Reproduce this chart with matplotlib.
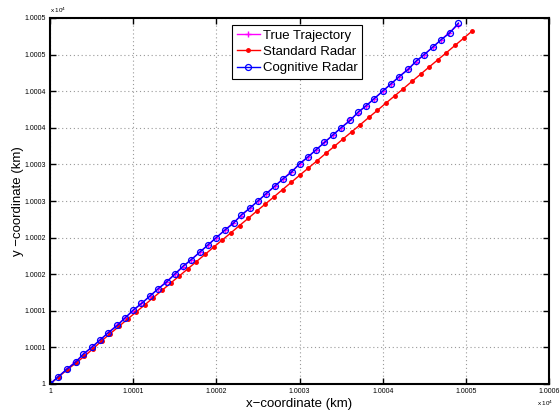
import numpy as np
import matplotlib
matplotlib.use('Agg')
import matplotlib.pyplot as plt
from matplotlib.ticker import FixedLocator, FuncFormatter

# coordinates in km
x_true = [10000.0, 10000.1, 10000.2, 10000.3, 10000.4, 10000.5, 10000.6, 10000.7, 10000.8, 10000.9,
          10001.0, 10001.1, 10001.2, 10001.3, 10001.4, 10001.5, 10001.6, 10001.7, 10001.8, 10001.9,
          10002.0, 10002.1, 10002.2, 10002.3, 10002.4, 10002.5, 10002.6, 10002.7, 10002.8, 10002.9,
          10003.0, 10003.1, 10003.2, 10003.3, 10003.4, 10003.5, 10003.6, 10003.7, 10003.8, 10003.9,
          10004.0, 10004.1, 10004.2, 10004.3, 10004.4, 10004.5, 10004.6, 10004.7, 10004.8, 10004.9]
y_true = [10000.0, 10000.1, 10000.2, 10000.3, 10000.4, 10000.5, 10000.6, 10000.7, 10000.8, 10000.9,
          10001.0, 10001.1, 10001.2, 10001.3, 10001.4, 10001.5, 10001.6, 10001.7, 10001.8, 10001.9,
          10002.0, 10002.1, 10002.2, 10002.3, 10002.4, 10002.5, 10002.6, 10002.7, 10002.8, 10002.9,
          10003.0, 10003.1, 10003.2, 10003.3, 10003.4, 10003.5, 10003.6, 10003.7, 10003.8, 10003.9,
          10004.0, 10004.1, 10004.2, 10004.3, 10004.4, 10004.5, 10004.6, 10004.7, 10004.8, 10004.9]

x_std = [10000.000, 10000.104, 10000.207, 10000.311, 10000.414, 10000.518, 10000.622, 10000.725, 10000.829, 10000.932,
         10001.036, 10001.140, 10001.243, 10001.347, 10001.450, 10001.554, 10001.658, 10001.761, 10001.865, 10001.968,
         10002.072, 10002.176, 10002.279, 10002.383, 10002.486, 10002.590, 10002.694, 10002.797, 10002.901, 10003.004,
         10003.108, 10003.212, 10003.315, 10003.419, 10003.522, 10003.626, 10003.730, 10003.833, 10003.937, 10004.040,
         10004.144, 10004.248, 10004.351, 10004.455, 10004.558, 10004.662, 10004.766, 10004.869, 10004.973, 10005.076]
y_std = [10000.000, 10000.098, 10000.197, 10000.285, 10000.380, 10000.482, 10000.590, 10000.689, 10000.787, 10000.886,
         10000.984, 10001.082, 10001.181, 10001.279, 10001.378, 10001.476, 10001.574, 10001.673, 10001.771, 10001.870,
         10001.968, 10002.066, 10002.165, 10002.263, 10002.362, 10002.460, 10002.558, 10002.657, 10002.755, 10002.854,
         10002.952, 10003.050, 10003.149, 10003.247, 10003.346, 10003.444, 10003.542, 10003.641, 10003.739, 10003.838,
         10003.936, 10004.034, 10004.133, 10004.231, 10004.330, 10004.428, 10004.526, 10004.625, 10004.723, 10004.822]

x_cog = [10000.00, 10000.10, 10000.20, 10000.31, 10000.40, 10000.50, 10000.60, 10000.70, 10000.81, 10000.90,
         10001.00, 10001.10, 10001.20, 10001.30, 10001.41, 10001.50, 10001.60, 10001.70, 10001.80, 10001.90,
         10002.00, 10002.10, 10002.21, 10002.30, 10002.40, 10002.50, 10002.60, 10002.70, 10002.80, 10002.91,
         10003.00, 10003.10, 10003.20, 10003.30, 10003.40, 10003.50, 10003.61, 10003.70, 10003.80, 10003.90,
         10004.00, 10004.10, 10004.20, 10004.31, 10004.40, 10004.50, 10004.60, 10004.70, 10004.81, 10004.91]
y_cog = [10000.00, 10000.10, 10000.20, 10000.30, 10000.41, 10000.50, 10000.60, 10000.70, 10000.80, 10000.90,
         10001.01, 10001.10, 10001.20, 10001.30, 10001.40, 10001.50, 10001.61, 10001.70, 10001.80, 10001.90,
         10002.00, 10002.10, 10002.20, 10002.31, 10002.40, 10002.50, 10002.60, 10002.70, 10002.80, 10002.90,
         10003.01, 10003.10, 10003.20, 10003.30, 10003.40, 10003.50, 10003.60, 10003.71, 10003.80, 10003.90,
         10004.00, 10004.10, 10004.20, 10004.30, 10004.41, 10004.50, 10004.60, 10004.70, 10004.80, 10004.93]

x_ticks = [10000, 10001, 10002, 10003, 10004, 10005, 10006]
y_ticks = [10000, 10000.5, 10001, 10001.5, 10002, 10002.5, 10003, 10003.5, 10004, 10004.5, 10005]

plt.rcParams['font.family'] = ['Liberation Sans', 'DejaVu Sans']


def tickLabel(v, pos=None):
    # matlab style: scaled by 1e4, 4 decimals, rounding half up
    s = '%.4f' % (np.floor(v + 0.5) / 1e4)
    return s.rstrip('0').rstrip('.')


fig = plt.figure(figsize=(5.6, 4.12), dpi=100)
ax = fig.add_axes([50 / 560., 1 - 384 / 412., 499 / 560., 366 / 412.])

ax.plot(x_true, y_true, '-', color='magenta', marker='+', markersize=4, linewidth=1, label='True Trajectory')
ax.plot(x_std, y_std, '-', color='red', marker='.', markersize=5, linewidth=1, label='Standard Radar')
ax.plot(x_cog, y_cog, '-', color='blue', marker='o', markersize=4.3, markerfacecolor='none',
        markeredgewidth=0.9, linewidth=1, label='Cognitive Radar')

ax.set_xlim(10000, 10006)
ax.set_ylim(10000, 10005)
ax.xaxis.set_major_locator(FixedLocator(x_ticks))
ax.yaxis.set_major_locator(FixedLocator(y_ticks))
ax.xaxis.set_major_formatter(FuncFormatter(tickLabel))
ax.yaxis.set_major_formatter(FuncFormatter(tickLabel))
ax.tick_params(direction='in', length=4, width=1, labelsize=5, top=True, right=True, pad=3)

ax.grid(True, linestyle=(0, (1, 2.5)), color='#999999', linewidth=0.8)
for s in ax.spines.values():
    s.set_linewidth(1.5)
    s.set_color('black')

ax.set_xlabel(u'x\u2212coordinate (km)', fontsize=9.5, labelpad=2)
ax.set_ylabel(u'y \u2212coordinate (km)', fontsize=9.5, labelpad=0)

fig.text(50 / 560., 1 - 10 / 412., r'x 10$^4$', fontsize=4.5, ha='left', va='center')
fig.text(545 / 560., 1 - 403 / 412., r'x 10$^4$', fontsize=4.5, ha='center', va='center')

leg = ax.legend(loc='upper left', bbox_to_anchor=(232 / 560., 1 - 25 / 412.), bbox_transform=fig.transFigure,
                fontsize=9.5, fancybox=False, framealpha=1, edgecolor='black', borderpad=0.35,
                labelspacing=0.3, handlelength=1.8, handletextpad=0.2, borderaxespad=0)
leg.get_frame().set_linewidth(0.8)

fig.savefig('out.png', dpi=100)
